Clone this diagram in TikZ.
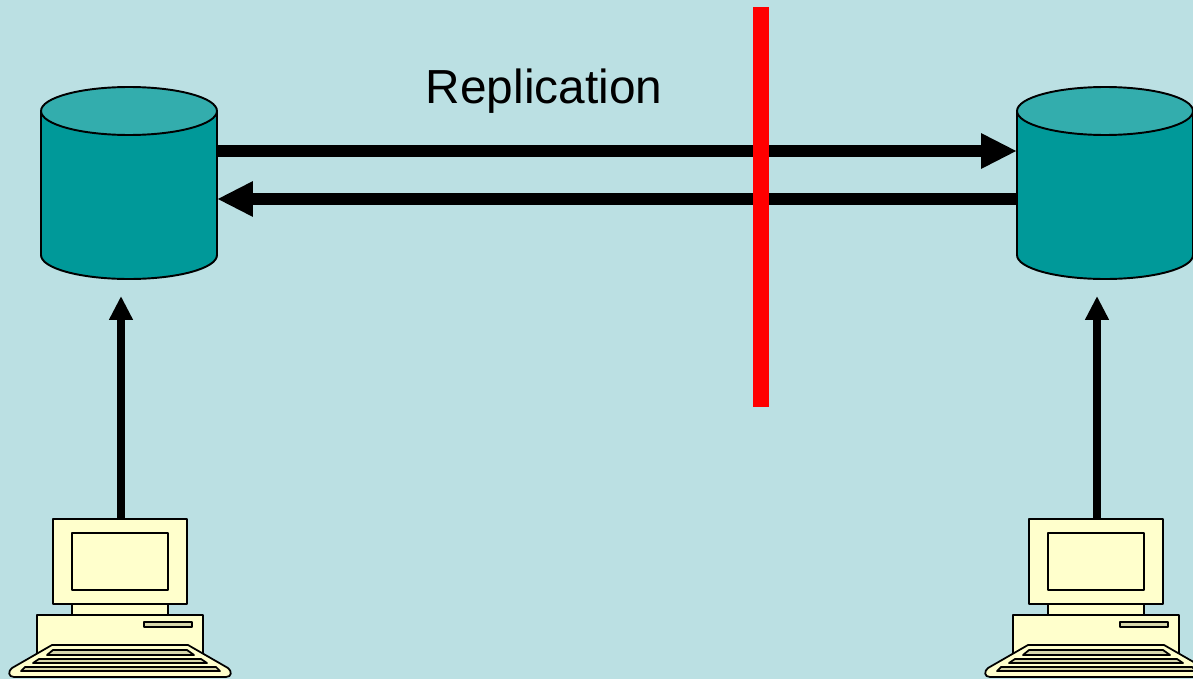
\documentclass[tikz,border=0pt]{standalone}
\usepackage{fontspec}
\setmainfont{Liberation Sans}
\definecolor{slidebg}{RGB}{187,224,227}
\definecolor{dbbody}{RGB}{0,153,153}
\definecolor{dbtop}{RGB}{51,173,173}
\definecolor{pccream}{RGB}{255,255,204}
\definecolor{pcslot}{RGB}{214,214,170}
\usetikzlibrary{arrows.meta,positioning}
\tikzset{
  dbline/.style={draw=black,line width=1.1pt},
  replarrow/.style={line width=0.24cm,-{Triangle[length=0.72cm,width=0.66cm]}},
  usearrow/.style={line width=0.16cm,-{Triangle[length=0.48cm,width=0.45cm]}},
  pcline/.style={draw=black,line width=1pt,line join=round,fill=pccream},
  pcnode/.style={pcline,minimum width=2.68cm,minimum height=1.7cm,inner sep=0pt,outer sep=0pt},
  pics/database/.style={code={
    \draw[dbline,fill=dbbody] (-88,-72) -- (-88,72)
        .. controls (-88,85.3) and (-48.6,96) .. (0,96)
        .. controls (48.6,96) and (88,85.3) .. (88,72) -- (88,-72) -- cycle;
    \draw[dbline,fill=dbtop] (0,-72) ellipse [x radius=1.76cm,y radius=0.48cm];
    \node[minimum width=3.52cm,minimum height=3.84cm,inner sep=0pt,outer sep=0pt] (-body) at (0,0) {};
  }},
  pics/computer/.style={code={
    %% neck, case and slot
    \draw[pcline] (72,604) rectangle (168,615);
    \draw[pcline] (37,615) rectangle (203,660);
    \draw[pcline,fill=pcslot] (144,622) rectangle (192,627);
    %% monitor
    \node[pcnode] (-monitor) at (120,561.5) {};
    \draw[pcline] (72,533) rectangle (168,590);
    %% keyboard
    \draw[pcline] (52,645) -- (188,645) -- (228,668) .. controls (232,671) and (232,677) .. (226,677)
        -- (14,677) .. controls (8,677) and (8,671) .. (12,668) -- cycle;
    \draw[pcline,fill=pcslot] (53,650) -- (187,650) -- (194,655) -- (47,655) -- cycle;
    \draw[pcline,fill=pcslot] (39,659) -- (201,659) -- (207,663) -- (33,663) -- cycle;
    \draw[pcline,fill=pcslot] (25,667) -- (216,667) -- (220,671) -- (21,671) -- cycle;
  }}
}
\begin{document}
\begin{tikzpicture}[x=0.02cm,y=-0.02cm]
  \useasboundingbox[fill=slidebg] (0,0) rectangle (1193,679);

  %% Databases
  \pic (dbleft) at (129,183) {database};
  \pic (dbright) at (1105,183) {database};

  %% Replication arrows
  \draw[replarrow] ([yshift=0.64cm]dbleft-body.east) -- ([yshift=0.64cm]dbright-body.west);
  \draw[replarrow] ([yshift=-0.32cm]dbright-body.west) -- ([yshift=-0.32cm]dbleft-body.east);
  \node[font=\fontsize{27.2}{32}\selectfont] (repllabel) at (544,91.5) {Replication};

  %% Partition bar
  \node[fill=red,minimum width=0.32cm,minimum height=8cm,inner sep=0pt] (partition) at (761,207) {};

  %% Computers
  \pic (pcleft) at (0,0) {computer};
  \pic (pcright) at (976,0) {computer};
  \coordinate (tipleft) at (121,296);
  \coordinate (tipright) at (1097,296);
  \draw[usearrow] (tipleft |- pcleft-monitor.north) -- (tipleft);
  \draw[usearrow] (tipright |- pcright-monitor.north) -- (tipright);
\end{tikzpicture}
\end{document}
